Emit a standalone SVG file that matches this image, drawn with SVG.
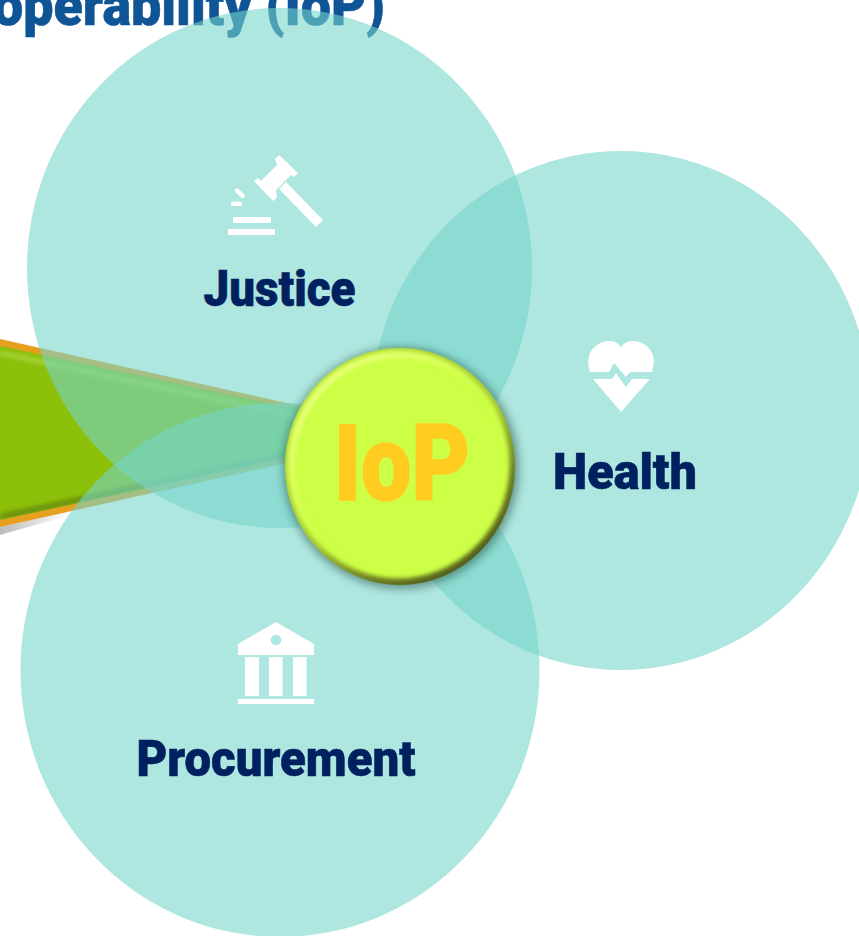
<svg xmlns="http://www.w3.org/2000/svg" width="859" height="936" viewBox="0 0 859 936">
<style>
.lbl{font-family:Roboto,"Liberation Sans",sans-serif;font-weight:900;fill:#00205f;stroke:#00205f;stroke-width:.6}
.disc{fill:#76d4ca;fill-opacity:.59}
.ico{fill:#fff}
</style>
<defs>
<linearGradient id="rimfill" x1=".15" y1=".05" x2=".8" y2=".95">
<stop offset="0" stop-color="#b4d83a"/><stop offset=".55" stop-color="#a8c838"/><stop offset=".8" stop-color="#6d7d20"/><stop offset="1" stop-color="#4f5a1a"/>
</linearGradient>
<linearGradient id="rim" x1=".1" y1="0" x2=".6" y2=".6">
<stop offset="0" stop-color="#f6ff9a"/><stop offset=".45" stop-color="#e8ff70" stop-opacity=".8"/><stop offset="1" stop-color="#ccff44" stop-opacity="0"/>
</linearGradient>
<linearGradient id="shade" x1="0" y1="0" x2="1" y2="0">
<stop offset="0" stop-color="#555" stop-opacity=".4"/><stop offset="1" stop-color="#555" stop-opacity="0"/>
</linearGradient>
<filter id="glow" x="-20%" y="-20%" width="140%" height="140%"><feGaussianBlur stdDeviation="4"/></filter>
<filter id="soft" x="-10%" y="-10%" width="120%" height="120%"><feGaussianBlur stdDeviation="2"/></filter>
<filter id="line" x="-5%" y="-50%" width="110%" height="200%"><feGaussianBlur stdDeviation="2"/></filter>
<clipPath id="beamclip"><polygon points="0,346 300,410 300,455 0,520"/></clipPath>
</defs>
<text id="title" x="385" y="25" text-anchor="end" font-family="Roboto,'Liberation Sans',sans-serif" font-weight="900" font-size="57" fill="#0f5596" stroke="#0f5596" stroke-width=".6" textLength="392" lengthAdjust="spacingAndGlyphs">operability (IoP)</text>
<g id="connectors">
<polygon points="0,527 70,511 70,515 0,535" fill="url(#shade)"/>
<polygon points="0,339 300,406 300,460 0,527" fill="#e69f1e"/>
<polygon points="0,346 300,410 300,455 0,520" fill="#8cc00a"/>
<g clip-path="url(#beamclip)">
<line x1="0" y1="353" x2="300" y2="417" stroke="#a8d640" stroke-width="4" filter="url(#line)"/>
<line x1="0" y1="517" x2="300" y2="452" stroke="#6a8f08" stroke-width="6" filter="url(#line)"/>
</g>
</g>
<g id="justice">
<ellipse class="disc" cx="279.500" cy="268" rx="252.500" ry="260"/>
<g class="ico">
<polygon points="254,181 258,178 261,181 277,165 275,159 279,155 298,173 294,177 291,175 276,190 277,197 273,201"/>
<polygon points="279,189 286,182 323,220 316,227"/>
<rect x="231" y="201.500" width="11" height="4.500" rx="2"/>
<rect x="234" y="191" width="12" height="4.500" rx="2" transform="rotate(43 240 193)"/>
<rect x="233" y="217" width="38" height="6"/>
<rect x="228" y="229" width="47" height="6"/>
</g>
<text class="lbl" x="279.500" y="306" text-anchor="middle" font-size="50" textLength="152" lengthAdjust="spacingAndGlyphs">Justice</text>
</g>
<g id="health">
<ellipse class="disc" cx="621" cy="410.500" rx="250" ry="259.500"/>
<path class="ico" d="M590,372 C583,352 598,341 609,341 C615,341 619,344 621,347 C623,344 627,341 633,341 C645,341 659,352 652,372 L630,372 L626,377 L614,363 L609,372 Z"/>
<path class="ico" d="M593,379 L612,379 L616,373 L626,387 L632,379 L650,379 L621,412 Z"/>
<text class="lbl" x="625" y="489" text-anchor="middle" font-size="50" textLength="144" lengthAdjust="spacingAndGlyphs">Health</text>
</g>
<g id="procurement">
<ellipse class="disc" cx="280" cy="670" rx="259.500" ry="267"/>
<g class="ico">
<path fill-rule="evenodd" d="M276,622 L314,644 L314,655 L238,655 L238,644 Z M276,634.700 a5.300,5.300 0 1 0 .01,0 Z"/>
<rect x="245" y="657" width="14" height="39"/>
<rect x="269" y="657" width="13.500" height="39"/>
<rect x="293" y="657" width="13.500" height="39"/>
<rect x="238" y="699" width="76" height="5"/>
</g>
<text class="lbl" x="276" y="776" text-anchor="middle" font-size="50" textLength="279" lengthAdjust="spacingAndGlyphs">Procurement</text>
</g>
<g id="iop">
<ellipse cx="401" cy="468" rx="118" ry="121" fill="#1f4a3a" opacity=".5" filter="url(#glow)"/>
<ellipse cx="400" cy="466.500" rx="115" ry="118.500" fill="url(#rimfill)"/>
<ellipse cx="398.500" cy="464.500" rx="111" ry="114" fill="#ccff44" filter="url(#soft)"/>
<ellipse cx="399" cy="465" rx="107" ry="110" fill="none" stroke="url(#rim)" stroke-width="5" filter="url(#soft)"/>
<text x="402" y="500" text-anchor="middle" font-family="Roboto,'Liberation Sans',sans-serif" font-weight="900" font-size="106" fill="#ffcc1f" stroke="#ffcc1f" stroke-width="1.500" textLength="136" lengthAdjust="spacingAndGlyphs">IoP</text>
</g>
</svg>
